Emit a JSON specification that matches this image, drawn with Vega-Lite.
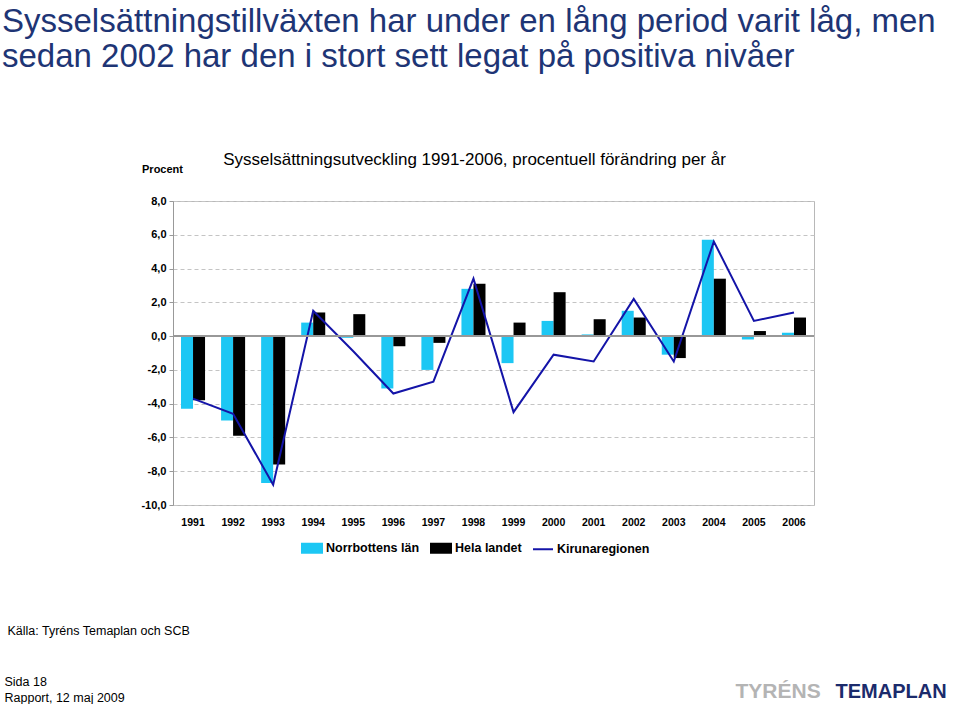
{
  "$schema": "https://vega.github.io/schema/vega-lite/v6.json",
  "width": 641,
  "height": 304,
  "autosize": {"type": "none"},
  "padding": {"left": 173, "top": 201, "right": 146, "bottom": 199},
  "background": "white",
  "config": {
    "view": {"stroke": "#b8b8b8", "strokeWidth": 1},
    "font": "Liberation Sans"
  },
  "title": {
    "text": ["Sysselsättningstillväxten har under en lång period varit låg, men", "sedan 2002 har den i stort sett legat på positiva nivåer"],
    "anchor": "start",
    "frame": "group",
    "dx": -171,
    "offset": 76,
    "fontSize": 33,
    "fontWeight": "normal",
    "font": "Liberation Sans",
    "color": "#1E3575",
    "lineHeight": 35
  },
  "data": {
    "values": [
      {"year": "1991", "series": "Norrbottens län", "value": -4.3},
      {"year": "1991", "series": "Hela landet", "value": -3.8},
      {"year": "1991", "series": "Kirunaregionen", "value": -3.7},
      {"year": "1992", "series": "Norrbottens län", "value": -5.0},
      {"year": "1992", "series": "Hela landet", "value": -5.9},
      {"year": "1992", "series": "Kirunaregionen", "value": -4.6},
      {"year": "1993", "series": "Norrbottens län", "value": -8.7},
      {"year": "1993", "series": "Hela landet", "value": -7.6},
      {"year": "1993", "series": "Kirunaregionen", "value": -8.8},
      {"year": "1994", "series": "Norrbottens län", "value": 0.8},
      {"year": "1994", "series": "Hela landet", "value": 1.4},
      {"year": "1994", "series": "Kirunaregionen", "value": 1.5},
      {"year": "1995", "series": "Norrbottens län", "value": -0.1},
      {"year": "1995", "series": "Hela landet", "value": 1.3},
      {"year": "1995", "series": "Kirunaregionen", "value": -0.9},
      {"year": "1996", "series": "Norrbottens län", "value": -3.1},
      {"year": "1996", "series": "Hela landet", "value": -0.6},
      {"year": "1996", "series": "Kirunaregionen", "value": -3.4},
      {"year": "1997", "series": "Norrbottens län", "value": -2.0},
      {"year": "1997", "series": "Hela landet", "value": -0.4},
      {"year": "1997", "series": "Kirunaregionen", "value": -2.7},
      {"year": "1998", "series": "Norrbottens län", "value": 2.8},
      {"year": "1998", "series": "Hela landet", "value": 3.1},
      {"year": "1998", "series": "Kirunaregionen", "value": 3.4},
      {"year": "1999", "series": "Norrbottens län", "value": -1.6},
      {"year": "1999", "series": "Hela landet", "value": 0.8},
      {"year": "1999", "series": "Kirunaregionen", "value": -4.5},
      {"year": "2000", "series": "Norrbottens län", "value": 0.9},
      {"year": "2000", "series": "Hela landet", "value": 2.6},
      {"year": "2000", "series": "Kirunaregionen", "value": -1.1},
      {"year": "2001", "series": "Norrbottens län", "value": 0.1},
      {"year": "2001", "series": "Hela landet", "value": 1.0},
      {"year": "2001", "series": "Kirunaregionen", "value": -1.5},
      {"year": "2002", "series": "Norrbottens län", "value": 1.5},
      {"year": "2002", "series": "Hela landet", "value": 1.1},
      {"year": "2002", "series": "Kirunaregionen", "value": 2.2},
      {"year": "2003", "series": "Norrbottens län", "value": -1.1},
      {"year": "2003", "series": "Hela landet", "value": -1.3},
      {"year": "2003", "series": "Kirunaregionen", "value": -1.5},
      {"year": "2004", "series": "Norrbottens län", "value": 5.7},
      {"year": "2004", "series": "Hela landet", "value": 3.4},
      {"year": "2004", "series": "Kirunaregionen", "value": 5.6},
      {"year": "2005", "series": "Norrbottens län", "value": -0.2},
      {"year": "2005", "series": "Hela landet", "value": 0.3},
      {"year": "2005", "series": "Kirunaregionen", "value": 0.9},
      {"year": "2006", "series": "Norrbottens län", "value": 0.2},
      {"year": "2006", "series": "Hela landet", "value": 1.1},
      {"year": "2006", "series": "Kirunaregionen", "value": 1.4}
    ]
  },
  "resolve": {"axis": {"x": "independent", "y": "independent"}},
  "layer": [
    {
      "transform": [{"filter": "datum.series !== 'Kirunaregionen'"}],
      "mark": {"type": "bar"},
      "encoding": {
        "x": {
          "field": "year", "type": "nominal",
          "scale": {"paddingInner": 0.4, "paddingOuter": 0.2},
          "axis": {
            "orient": "bottom", "domain": false, "ticks": false, "grid": false,
            "labelAngle": 0, "labelFont": "Liberation Sans", "labelFontWeight": "bold",
            "labelFontSize": 10.5, "labelColor": "#000000", "labelPadding": 12,
            "title": "Källa: Tyréns Temaplan och SCB",
            "titleX": -166, "titleY": 125, "titleAlign": "left", "titleBaseline": "middle",
            "titleFontSize": 12.5, "titleFontWeight": "normal", "titleColor": "#000000"
          }
        },
        "xOffset": {"field": "series", "type": "nominal", "scale": {"domain": ["Norrbottens län", "Hela landet"]}},
        "y": {
          "field": "value", "type": "quantitative",
          "scale": {"domain": [-10, 8], "nice": false, "zero": false},
          "axis": {
            "orient": "left", "values": [-10, -8, -6, -4, -2, 0, 2, 4, 6, 8],
            "labelExpr": "replace(replace(format(datum.value, '.1f'), '.', ','), '\u2212', '-')",
            "labelFontSize": 11, "labelFontWeight": "bold", "labelColor": "#000000", "labelPadding": 3,
            "tickSize": 4, "tickColor": "#999999", "domainColor": "#999999",
            "grid": true, "gridDash": [4, 3], "gridColor": "#c4c4c4",
            "title": "Procent", "titleAngle": 0, "titleX": -11, "titleY": -32,
            "titleAlign": "center", "titleBaseline": "middle",
            "titleFontSize": 11, "titleFontWeight": "bold", "titleColor": "#000000"
          }
        },
        "color": {
          "field": "series", "type": "nominal",
          "scale": {"domain": ["Norrbottens län", "Hela landet", "Kirunaregionen"], "range": ["#1CC7F4", "#000000", "#1414A8"]},
          "legend": {
            "orient": "none", "legendX": 128, "legendY": 336, "direction": "horizontal",
            "title": null, "labelFontSize": 12.5, "labelFontWeight": "bold", "labelColor": "#000000",
            "labelOffset": 3, "columnPadding": 7, "symbolSize": 400,
            "encode": {
              "symbols": {
                "update": {
                  "shape": {"signal": "datum.value === 'Kirunaregionen' ? 'M-1,0H1' : 'M-1,-0.45H1V0.45H-1Z'"},
                  "fill": {"signal": "datum.value === 'Kirunaregionen' ? 'transparent' : scale('color', datum.value)"},
                  "stroke": {"signal": "datum.value === 'Kirunaregionen' ? scale('color', datum.value) : 'transparent'"},
                  "strokeWidth": {"value": 2},
                  "opacity": {"value": 1}
                }
              }
            }
          }
        }
      }
    },
    {
      "mark": {"type": "rule", "color": "#999999", "strokeWidth": 1},
      "encoding": {
        "y": {
          "datum": 0, "type": "quantitative",
          "axis": {
            "orient": "right", "labels": false, "ticks": false, "domain": false, "grid": false,
            "title": "TEMAPLAN", "titleAngle": 0, "titleX": 21, "titleY": 490,
            "titleAlign": "left", "titleBaseline": "middle",
            "titleFontSize": 20, "titleFontWeight": "bold", "titleColor": "#1B2B6C"
          }
        }
      }
    },
    {
      "transform": [{"filter": "datum.series === 'Kirunaregionen'"}],
      "mark": {"type": "line", "strokeWidth": 2},
      "encoding": {
        "x": {
          "field": "year", "type": "nominal",
          "axis": {
            "orient": "top", "labels": false, "ticks": false, "domain": false, "grid": false,
            "title": "Sysselsättningsutveckling 1991-2006, procentuell förändring per år",
            "titleX": 301, "titleY": -42, "titleAlign": "center", "titleBaseline": "middle",
            "titleFontSize": 17, "titleFontWeight": "normal", "titleColor": "#000000"
          }
        },
        "y": {
          "field": "value", "type": "quantitative",
          "axis": {
            "orient": "right", "labels": false, "ticks": false, "domain": false, "grid": false,
            "title": ["Sida 18", "Rapport, 12 maj 2009"], "titleAngle": 0,
            "titleX": -810, "titleY": 480, "titleAlign": "left", "titleBaseline": "middle",
            "titleFontSize": 12.5, "titleFontWeight": "normal", "titleColor": "#000000", "titleLineHeight": 16
          }
        },
        "color": {"field": "series", "type": "nominal"}
      }
    },
    {
      "mark": {"type": "rule", "color": "#999999", "strokeWidth": 1},
      "encoding": {
        "y": {
          "datum": 0, "type": "quantitative",
          "axis": {
            "orient": "left", "labels": false, "ticks": false, "domain": false, "grid": false,
            "title": "TYRÉNS", "titleAngle": 0, "titleX": 562, "titleY": 490,
            "titleAlign": "left", "titleBaseline": "middle",
            "titleFontSize": 21, "titleFontWeight": "bold", "titleColor": "#B4B4B4"
          }
        }
      }
    }
  ]
}
